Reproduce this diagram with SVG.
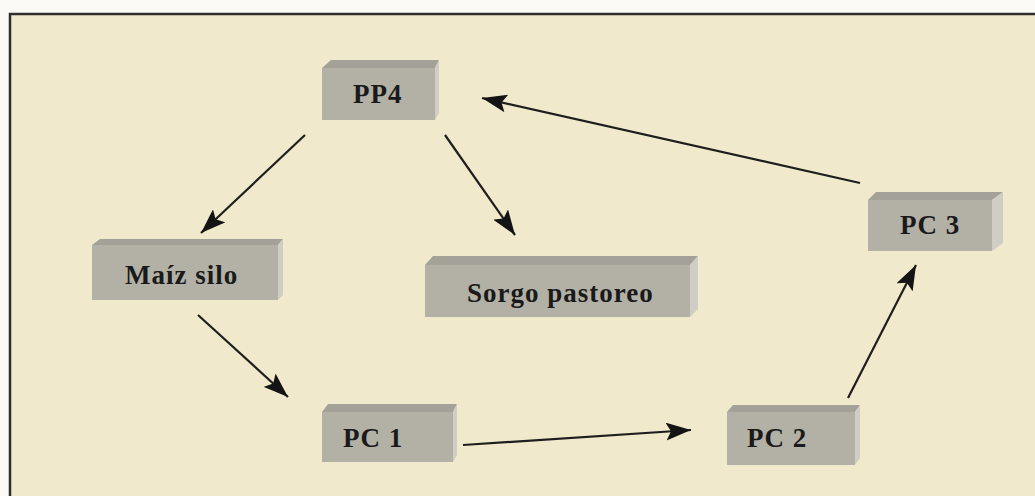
<svg xmlns="http://www.w3.org/2000/svg" width="1035" height="496" viewBox="0 0 1035 496">
<style>
.front{fill:#b3b0a6}
.top{fill:#a4a198}
.side{fill:#d0cdc4}
.lbl{font-family:"Liberation Serif","Times New Roman",serif;font-weight:bold;font-size:27px;letter-spacing:1px;fill:#1a1a1a}
.con{stroke:#1e1e1e;stroke-width:2.2;fill:none;marker-end:url(#ah)}
</style>
<defs>
<marker id="ah" markerUnits="userSpaceOnUse" markerWidth="25" markerHeight="18" refX="25" refY="9" orient="auto">
<path d="M0,0 L25,9 L0,18 L5,9 z" fill="#141414"/>
</marker>
</defs>
<rect x="0" y="0" width="1035" height="496" fill="#fbfaf6"/>
<rect x="10" y="14" width="1030" height="490" fill="#f0e9cb"/>
<path d="M10,496 L10,14 L1035,14" fill="none" stroke="#2f2f2f" stroke-width="2.5"/>

<g id="connectors">
<line class="con" x1="305" y1="135" x2="201" y2="233"/>
<line class="con" x1="445" y1="135" x2="515" y2="235"/>
<line class="con" x1="860" y1="183" x2="482" y2="98"/>
<line class="con" x1="198" y1="315" x2="288" y2="397"/>
<line class="con" x1="463" y1="445" x2="691" y2="430"/>
<line class="con" x1="848" y1="398" x2="916" y2="265"/>
</g>

<g id="pp4">
<polygon class="top" points="322,68 331,60 439,60 435,68"/>
<polygon class="side" points="435,68 439,60 439,113 435,120"/>
<rect class="front" x="322" y="68" width="113" height="52"/>
<text class="lbl" x="353" y="103">PP4</text>
</g>

<g id="maiz-silo">
<polygon class="top" points="92,245 100,239 283,239 278,245"/>
<polygon class="side" points="278,245 283,239 283,295 278,300"/>
<rect class="front" x="92" y="245" width="186" height="55"/>
<text class="lbl" x="125" y="284">Maíz silo</text>
</g>

<g id="sorgo-pastoreo">
<polygon class="top" points="425,265 433,256 698,256 690,265"/>
<polygon class="side" points="690,265 698,256 698,309 690,317"/>
<rect class="front" x="425" y="265" width="265" height="52"/>
<text class="lbl" x="467" y="302">Sorgo pastoreo</text>
</g>

<g id="pc3">
<polygon class="top" points="868,200 876,192 1003,192 992,200"/>
<polygon class="side" points="992,200 1003,192 1003,243 992,251"/>
<rect class="front" x="868" y="200" width="124" height="51"/>
<text class="lbl" x="900" y="234">PC 3</text>
</g>

<g id="pc1">
<polygon class="top" points="322,412 328,404 457,404 453,412"/>
<polygon class="side" points="453,412 457,404 457,455 453,462"/>
<rect class="front" x="322" y="412" width="131" height="50"/>
<text class="lbl" x="343" y="447">PC 1</text>
</g>

<g id="pc2">
<polygon class="top" points="727,412 733,405 860,405 855,412"/>
<polygon class="side" points="855,412 860,405 860,458 855,465"/>
<rect class="front" x="727" y="412" width="128" height="53"/>
<text class="lbl" x="747" y="447">PC 2</text>
</g>
</svg>
